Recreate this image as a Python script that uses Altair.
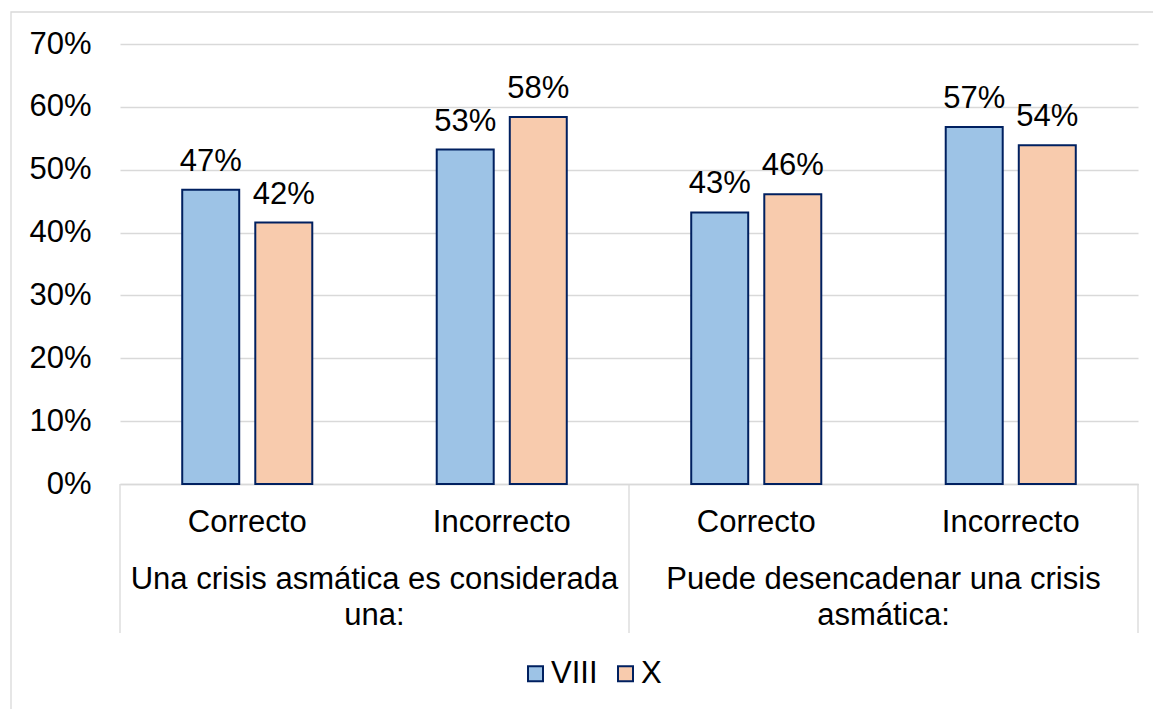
import altair as alt
import pandas as pd

# Questions (outer category level), answers (inner level) and the two series
preguntas = ["Una crisis asmática es considerada\nuna:", "Puede desencadenar una crisis\nasmática:"]
respuestas = ["Correcto", "Incorrecto"]
series = ["VIII", "X"]

# Share of answers per question/answer, one list per series
valores_viii = [0.468, 0.532, 0.432, 0.568]
valores_x = [0.416, 0.584, 0.461, 0.539]

y_ticks = [0, 0.1, 0.2, 0.3, 0.4, 0.5, 0.6, 0.7]

FONT = "Liberation Sans"
GRID = "#D9D9D9"
EDGE = "#002060"
COLORS = ["#9DC3E6", "#F8CBAD"]

W, H = 1018, 440

# Long table: one row per bar
filas = []
claves = []
cat_rows = []
for gi, preg in enumerate(preguntas):
    for ri, resp in enumerate(respuestas):
        k = f"{gi}-{resp}"
        claves.append(k)
        cat_rows.append({"clave": k, "respuesta": resp})
idx = 0
for gi, preg in enumerate(preguntas):
    for ri, resp in enumerate(respuestas):
        k = f"{gi}-{resp}"
        filas.append({"clave": k, "serie": series[0], "valor": valores_viii[idx]})
        filas.append({"clave": k, "serie": series[1], "valor": valores_x[idx]})
        idx += 1
df = pd.DataFrame(filas)
df_cat = pd.DataFrame(cat_rows)
df_grp = pd.DataFrame({"pos": [i + 0.5 for i in range(len(preguntas))], "pregunta": preguntas})
df_sep = pd.DataFrame({"pos": list(range(len(preguntas) + 1))})

x_band = alt.X(
    "clave:N",
    sort=claves,
    scale=alt.Scale(paddingInner=0.489, paddingOuter=0.2445),
    axis=alt.Axis(labels=False, ticks=False, title=None, grid=False,
                  domain=True, domainColor=GRID, domainWidth=1.3),
)
x_off = alt.XOffset("serie:N", sort=series,
                    scale=alt.Scale(paddingInner=0.22, paddingOuter=0))
y_val = alt.Y(
    "valor:Q",
    scale=alt.Scale(domain=[0, 0.7], nice=False),
    axis=alt.Axis(values=y_ticks, format=".0%", title=None, ticks=False, domain=False,
                  grid=True, gridColor=GRID, gridWidth=1.3,
                  labelFontSize=31, labelFont=FONT, labelColor="#000000",
                  labelPadding=29),
)

bars = alt.Chart(df).mark_bar(stroke=EDGE, strokeWidth=2).encode(
    x=x_band,
    xOffset=x_off,
    y=y_val,
    color=alt.Color(
        "serie:N",
        sort=series,
        scale=alt.Scale(domain=series, range=COLORS),
        legend=alt.Legend(
            orient="none", legendX=400, legendY=614, direction="horizontal",
            title=None, symbolType="square", symbolSize=225, symbolStrokeWidth=2,
            symbolStrokeColor=EDGE, symbolOpacity=1, labelFontSize=31, labelFont=FONT,
            labelColor="#000000", labelOffset=0, columnPadding=12, padding=0,
        ),
    ),
)

etiquetas = alt.Chart(df).mark_text(
    dy=-19, baseline="alphabetic", fontSize=31, font=FONT, color="#000000"
).encode(
    x=x_band,
    xOffset=x_off,
    y=alt.Y("valor:Q"),
    text=alt.Text("valor:Q", format=".0%"),
)

cat_text = alt.Chart(df_cat).mark_text(
    baseline="alphabetic", fontSize=31, font=FONT, color="#000000"
).encode(
    x=alt.X("clave:N", sort=claves),
    y=alt.value(488),
    text="respuesta:N",
)

grp_text = alt.Chart(df_grp).mark_text(
    baseline="alphabetic", fontSize=31, font=FONT, color="#000000",
    lineBreak="\n", lineHeight=35.5,
).encode(
    x=alt.X("pos:Q", scale=alt.Scale(domain=[0, len(preguntas)], nice=False), axis=None),
    y=alt.value(545),
    text="pregunta:N",
)

separadores = alt.Chart(df_sep).mark_rule(color=GRID, strokeWidth=1.3).encode(
    x=alt.X("pos:Q", scale=alt.Scale(domain=[0, len(preguntas)], nice=False), axis=None),
    y=alt.value(H),
    y2=alt.value(589),
)

# Light frame around the chart area
marco = alt.Chart(alt.Data(values=[{}])).mark_rect(
    fillOpacity=0, stroke=GRID, strokeWidth=1.3
).encode(
    x=alt.value(-109), y=alt.value(-32), x2=alt.value(1100), y2=alt.value(700)
)

principal = alt.layer(bars, etiquetas, cat_text)
secundario = alt.layer(separadores, grp_text)

chart = alt.layer(marco, principal, secundario).resolve_scale(x="independent").properties(
    width=W,
    height=H,
    autosize=alt.AutoSizeParams(type="none"),
    padding={"left": 120, "top": 44, "right": 15, "bottom": 225},
    background="#FFFFFF",
).configure_view(stroke=None)

chart.save("out.html", embed_options={"renderer": "svg", "actions": False})
